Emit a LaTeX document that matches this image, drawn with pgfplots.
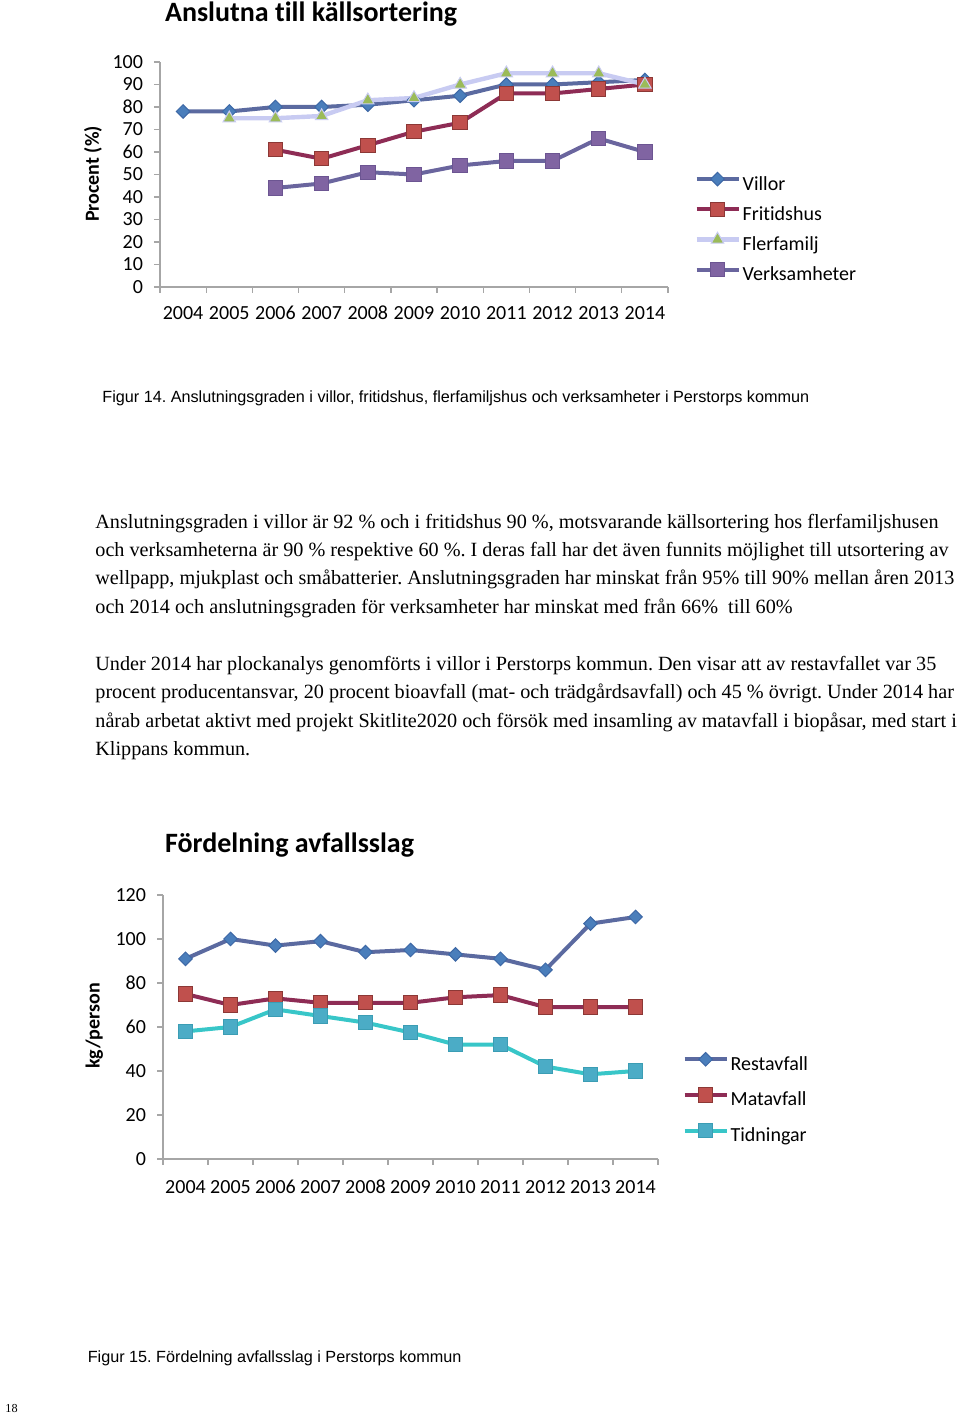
\documentclass[border=0pt]{standalone}
\usepackage{fontspec}
\setmainfont{Liberation Serif}
\newfontfamily\carlito[Ligatures=NoCommon]{Carlito}
\newfontfamily\arial{Liberation Sans}
\usepackage{pgfplots}
\pgfplotsset{compat=1.18}
\frenchspacing

\definecolor{axgray}{HTML}{A6A6A6}
\definecolor{vline}{HTML}{5B6AA0}
\definecolor{vfill}{HTML}{4A7EBB}
\definecolor{vdraw}{HTML}{3D68A6}
\definecolor{fline}{HTML}{8E2C55}
\definecolor{ffill}{HTML}{C0504D}
\definecolor{fdraw}{HTML}{8C3836}
\definecolor{flline}{HTML}{C8CBF2}
\definecolor{flfill}{HTML}{9BBB59}
\definecolor{verline}{HTML}{6A659E}
\definecolor{verfill}{HTML}{8064A2}
\definecolor{verdraw}{HTML}{6C5592}
\definecolor{tline}{HTML}{38C6C8}
\definecolor{tfill}{HTML}{4BACC6}
\definecolor{tdraw}{HTML}{3B9DB4}

\pgfplotsset{excel/.style={
  scale only axis,
  axis x line*=bottom, axis y line*=left,
  axis line style={axgray, line width=0.6pt},
  xmin=-0.5, xmax=10.5,
  xtick={-0.5,0.5,1.5,2.5,3.5,4.5,5.5,6.5,7.5,8.5,9.5,10.5},
  x tick label as interval,
  xticklabels={2004,2005,2006,2007,2008,2009,2010,2011,2012,2013,2014},
  tick align=outside,
  major tick length=3pt,
  tick style={axgray, line width=0.6pt},
  ticklabel style={font=\carlito\fontsize{10}{12}\selectfont},
  yticklabel style={xshift=-2pt},
  /pgf/number format/assume math mode=true,
  legend cell align=left,
  legend image code/.code={\draw[mark repeat=2,mark phase=2,##1] plot coordinates {(0pt,3pt)(10.5pt,3pt)(21pt,3pt)};},
  legend style={draw=none, fill=none, inner sep=0pt, column sep=1pt,
    font=\carlito\fontsize{10}{12}\selectfont,
    nodes={inner sep=0pt, text height=7pt, text depth=2pt}},
  title style={font=\carlito\bfseries\fontsize{14}{16}\selectfont, anchor=west},
  ylabel style={font=\carlito\bfseries\fontsize{10}{12}\selectfont, anchor=center},
}}

\begin{document}
\begin{tikzpicture}
\useasboundingbox (0,0) rectangle (480pt,711.5pt);

% --- Figur 14 ---
\begin{axis}[excel,
  at={(80pt,568pt)}, anchor=south west,
  width=254pt, height=112.5pt,
  ymin=0, ymax=100, ytick={0,10,...,100},
  xticklabel style={yshift=-3pt},
  title={Anslutna till källsortering},
  title style={at={(axis description cs:-0.004,1.16)}},
  ylabel={Procent (\%)},
  ylabel style={at={(axis description cs:-0.132,0.502)}},
  legend style={at={(axis description cs:1.051,0.26)}, anchor=west, row sep=4pt},
]
\addplot[vline, line width=2pt, mark=square*, mark size=2.4pt,
  mark options={rotate=45, fill=vfill, draw=vdraw, line width=0.5pt}]
  coordinates {(0,78)(1,78)(2,80)(3,80)(4,81)(5,83)(6,85)(7,90)(8,90)(9,91)(10,92)};
\addplot[fline, line width=2pt, mark=square*, mark size=3.6pt,
  mark options={fill=ffill, draw=fdraw, line width=0.5pt}]
  coordinates {(2,61)(3,57)(4,63)(5,69)(6,73)(7,86)(8,86)(9,88)(10,90)};
\addplot[flline, line width=2.2pt, mark=triangle*, mark size=3.6pt,
  mark options={fill=flfill, draw=flline, line width=0.5pt}]
  coordinates {(1,75)(2,75)(3,76)(4,83)(5,84)(6,90)(7,95)(8,95)(9,95)(10,90)};
\addplot[verline, line width=2pt, mark=square*, mark size=3.6pt,
  mark options={fill=verfill, draw=verdraw, line width=0.5pt}]
  coordinates {(2,44)(3,46)(4,51)(5,50)(6,54)(7,56)(8,56)(9,66)(10,60)};
\legend{Villor,Fritidshus,Flerfamilj,Verksamheter}
\end{axis}

\node[font=\arial\fontsize{8.1}{9.7}\selectfont, anchor=base west, inner sep=0pt]
  at (51pt,510pt) {Figur 14. Anslutningsgraden i villor, fritidshus, flerfamiljshus och verksamheter i Perstorps kommun};

% --- body text ---
\begin{scope}[every node/.style={font=\fontsize{10.1}{12}\selectfont, anchor=base west, inner sep=0pt}]
\node at (47.5pt,447.25pt) {Anslutningsgraden i villor är 92 \% och i fritidshus 90 \%, motsvarande källsortering hos flerfamiljshusen};
\node at (47.5pt,433pt) {och verksamheterna är 90 \% respektive 60 \%. I deras fall har det även funnits möjlighet till utsortering av};
\node at (47.5pt,419pt) {wellpapp, mjukplast och småbatterier. Anslutningsgraden har minskat från 95\% till 90\% mellan åren 2013};
\node at (47.5pt,404.75pt) {och 2014 och anslutningsgraden för verksamheter har minskat med från 66\%\ \ till 60\%};
\node at (47.5pt,376.15pt) {Under 2014 har plockanalys genomförts i villor i Perstorps kommun. Den visar att av restavfallet var 35};
\node at (47.5pt,362pt) {procent producentansvar, 20 procent bioavfall (mat- och trädgårdsavfall) och 45 \% övrigt. Under 2014 har};
\node at (47.5pt,347.85pt) {nårab arbetat aktivt med projekt Skitlite2020 och försök med insamling av matavfall i biopåsar, med start i};
\node at (47.5pt,333.65pt) {Klippans kommun.};
\end{scope}

% --- Figur 15 ---
\begin{axis}[excel,
  at={(81.5pt,132pt)}, anchor=south west,
  width=247.5pt, height=132pt,
  ymin=0, ymax=120, ytick={0,20,...,120},
  xticklabel style={yshift=-4pt},
  title={Fördelning avfallsslag},
  title style={at={(axis description cs:-0.01,1.144)}},
  ylabel={kg/person},
  ylabel style={at={(axis description cs:-0.139,0.504)}},
  legend style={at={(axis description cs:1.049,0.227)}, anchor=west, row sep=6.75pt},
]
\addplot[vline, line width=2pt, mark=square*, mark size=2.4pt,
  mark options={rotate=45, fill=vfill, draw=vdraw, line width=0.5pt}]
  coordinates {(0,91)(1,100)(2,97)(3,99)(4,94)(5,95)(6,93)(7,91)(8,86)(9,107)(10,110)};
\addplot[fline, line width=2pt, mark=square*, mark size=3.6pt,
  mark options={fill=ffill, draw=fdraw, line width=0.5pt}]
  coordinates {(0,75)(1,70)(2,73)(3,71)(4,71)(5,71)(6,73.5)(7,74.5)(8,69)(9,69)(10,69)};
\addplot[tline, line width=2pt, mark=square*, mark size=3.6pt,
  mark options={fill=tfill, draw=tdraw, line width=0.5pt}]
  coordinates {(0,58)(1,60)(2,68)(3,65)(4,62)(5,57.5)(6,52)(7,52)(8,42)(9,38.5)(10,40)};
\legend{Restavfall,Matavfall,Tidningar}
\end{axis}

\node[font=\arial\fontsize{8.1}{9.7}\selectfont, anchor=base west, inner sep=0pt]
  at (43.7pt,30.35pt) {Figur 15. Fördelning avfallsslag i Perstorps kommun};
\node[font=\fontsize{6.1}{7}\selectfont, anchor=base west, inner sep=0pt]
  at (2.5pt,5.35pt) {18};
\end{tikzpicture}
\end{document}
